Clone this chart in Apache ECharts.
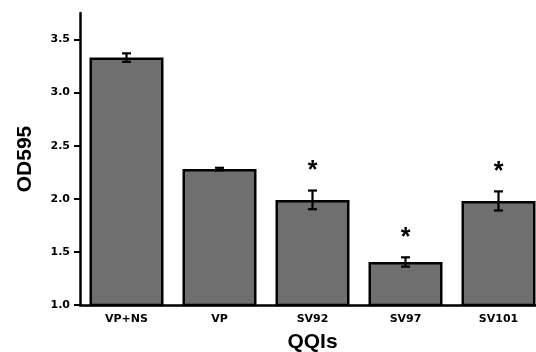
<!DOCTYPE html>
<html>
<head>
<meta charset="utf-8">
<script src="https://cdn.jsdelivr.net/npm/echarts@6/dist/echarts.min.js"></script>
<style>
  html, body { margin: 0; padding: 0; background: #fff; }
  #chart { width: 536px; height: 352px; }
</style>
</head>
<body>
<div id="chart"></div>
<script>
// 数据
const categories = ['VP+NS', 'VP', 'SV92', 'SV97', 'SV101'];
const means = [3.33, 2.28, 1.99, 1.405, 1.98];
const errors = [0.04, 0.012, 0.088, 0.044, 0.09];
const significant = [false, false, true, true, true];
const yTicks = [1.0, 1.5, 2.0, 2.5, 3.0, 3.5];

const myChart = echarts.init(document.getElementById('chart'));

const font = 'Liberation Sans, Arial, sans-serif';
const tickFont = 'DejaVu Sans, sans-serif';

const option = {
  backgroundColor: '#fff',
  animation: false,
  grid: { left: 80, width: 465, top: 13, bottom: 47, outerBoundsMode: 'none', containLabel: false },
  xAxis: {
    type: 'category',
    data: categories,
    name: 'QQIs',
    nameLocation: 'middle',
    nameGap: 27,
    nameTextStyle: { color: '#000', fontSize: 21, fontWeight: 'bold', fontFamily: font, verticalAlign: 'top', lineHeight: 21 },
    axisLine: { lineStyle: { color: '#000', width: 2.5 } },
    axisTick: { alignWithLabel: true, length: 5, lineStyle: { color: '#000', width: 2 } },
    axisLabel: { color: '#000', fontSize: 11, fontWeight: 'bold', fontFamily: tickFont, margin: 9 },
  },
  yAxis: {
    type: 'value',
    min: 1.0,
    max: 3.75,
    name: 'OD595',
    nameLocation: 'middle',
    nameGap: 44,
    nameTextStyle: { color: '#000', fontSize: 21, fontWeight: 'bold', fontFamily: font },
    axisLine: { show: true, lineStyle: { color: '#000', width: 2.5 } },
    axisTick: { show: true, length: 6, customValues: yTicks, lineStyle: { color: '#000', width: 2 } },
    axisLabel: {
      color: '#000', fontSize: 11, fontWeight: 'bold', fontFamily: tickFont, margin: 10,
      customValues: yTicks,
      formatter: (v) => v.toFixed(1),
    },
    splitLine: { show: false },
  },
  series: [
    {
      type: 'bar',
      data: means,
      barWidth: 74,
      itemStyle: { color: '#6f6f6f', borderColor: '#000', borderWidth: 2.5 },
    },
    {
      // 误差线和显著性标记
      type: 'custom',
      data: means.map((m, i) => [i, m, errors[i], significant[i] ? 1 : 0]),
      renderItem: (params, api) => {
        const x = api.coord([api.value(0), 0])[0];
        const m = api.value(1);
        const e = api.value(2);
        const top = api.coord([api.value(0), m + e])[1];
        const bot = api.coord([api.value(0), m - e])[1];
        const cap = 4.5;
        const style = { stroke: '#000', lineWidth: 2.2 };
        const children = [
          { type: 'line', shape: { x1: x, y1: top, x2: x, y2: bot }, style },
          { type: 'line', shape: { x1: x - cap, y1: top, x2: x + cap, y2: top }, style },
          { type: 'line', shape: { x1: x - cap, y1: bot, x2: x + cap, y2: bot }, style },
        ];
        if (api.value(3)) {
          children.push({
            type: 'text',
            style: {
              text: '*', x: x, y: top - 19,
              fill: '#000', font: 'bold 25px ' + font,
              align: 'center', verticalAlign: 'middle',
            },
          });
        }
        return { type: 'group', children };
      },
      z: 5,
    },
  ],
};

myChart.setOption(option);
window.addEventListener('resize', () => myChart.resize());
</script>
</body>
</html>
